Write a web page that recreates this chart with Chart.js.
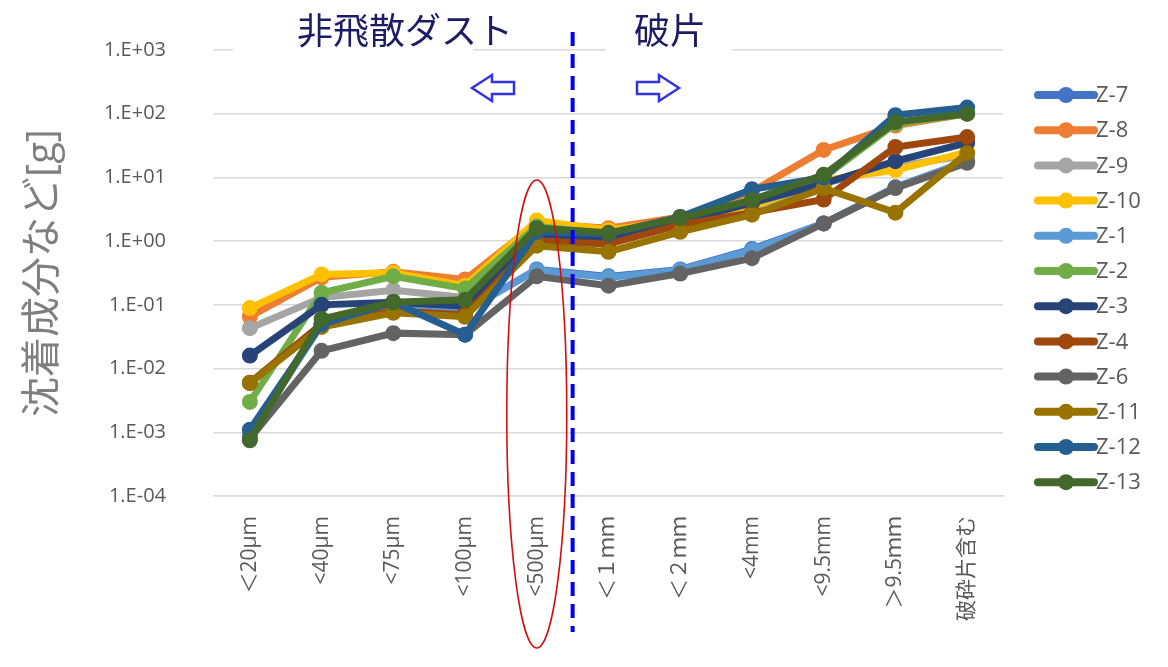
<!DOCTYPE html>
<html>
<head>
<meta charset="utf-8">
<script src="https://cdn.jsdelivr.net/npm/chart.js@4"></script>
<style>
  body { margin: 0; background: #fff; }
  canvas { display: block; }
</style>
</head>
<body>
<canvas id="chart" width="1168" height="667"></canvas>
<script>
// カテゴリ（粒径区分）
const categories = ['＜20μm', '<40μm', '<75μm', '<100μm', '<500μm', '＜１ｍｍ', '＜２ｍｍ', '<4mm', '<9.5mm', '＞9.5ｍｍ', '破砕片含む'];

// 各系列の値 [g]
const z7  = [0.0009, 0.05, 0.10, 0.08, 0.36, 0.28, 0.36, 0.75, 1.9, 7.0, 18];
const z8  = [0.065, 0.27, 0.33, 0.25, 1.9, 1.6, 2.4, 6.0, 27, 65, 100];
const z9  = [0.043, 0.13, 0.17, 0.13, 1.6, 1.3, 2.0, 3.5, 8, 15, 22];
const z10 = [0.089, 0.30, 0.32, 0.20, 2.1, 1.5, 2.1, 3.5, 9, 13, 25];
const z1  = [0.0009, 0.05, 0.10, 0.08, 0.35, 0.27, 0.35, 0.72, 1.9, 7.0, 18];
const z2  = [0.0030, 0.155, 0.28, 0.18, 1.7, 1.3, 2.2, 4.5, 10, 70, 100];
const z3  = [0.016, 0.10, 0.11, 0.095, 1.3, 1.1, 2.0, 4.0, 8, 18, 35];
const z4  = [0.0060, 0.05, 0.08, 0.07, 1.0, 0.9, 1.8, 2.8, 4.5, 30, 43];
const z6  = [0.0008, 0.019, 0.036, 0.034, 0.28, 0.20, 0.31, 0.54, 1.9, 6.8, 17];
const z11 = [0.0059, 0.045, 0.075, 0.065, 0.85, 0.68, 1.4, 2.6, 6.8, 2.8, 24];
const z12 = [0.0011, 0.05, 0.11, 0.034, 1.4, 1.3, 2.4, 6.5, 10, 95, 125];
const z13 = [0.00075, 0.06, 0.11, 0.12, 1.6, 1.35, 2.3, 4.4, 11, 74, 100];

const seriesNames  = ['Z-7', 'Z-8', 'Z-9', 'Z-10', 'Z-1', 'Z-2', 'Z-3', 'Z-4', 'Z-6', 'Z-11', 'Z-12', 'Z-13'];
const seriesValues = [z7, z8, z9, z10, z1, z2, z3, z4, z6, z11, z12, z13];
const seriesColors = ['#4472C4', '#ED7D31', '#A5A5A5', '#FFC000', '#5B9BD5', '#70AD47',
                      '#264478', '#9E480E', '#636363', '#997300', '#255E91', '#43682B'];

// y軸の目盛り
const yTicks = [1e-4, 1e-3, 1e-2, 1e-1, 1e0, 1e1, 1e2, 1e3];

const fontFamily = "'Open Sans', 'Noto Sans CJK JP', sans-serif";

function fmtExp(v) {
  const e = Math.round(Math.log10(v));
  return '1.E' + (e >= 0 ? '+' : '-') + String(Math.abs(e)).padStart(2, '0');
}

// 凡例（線＋マーカー）
const legendPlugin = {
  id: 'sideLegend',
  afterDraw(chart) {
    const ctx = chart.ctx;
    ctx.save();
    chart.data.datasets.forEach((ds, i) => {
      const y = 95 + i * 35.2;
      ctx.strokeStyle = ds.borderColor;
      ctx.lineWidth = 8;
      ctx.lineCap = 'round';
      ctx.beginPath();
      ctx.moveTo(1038, y);
      ctx.lineTo(1094, y);
      ctx.stroke();
      ctx.fillStyle = ds.borderColor;
      ctx.beginPath();
      ctx.arc(1066, y, 8, 0, Math.PI * 2);
      ctx.fill();
      ctx.fillStyle = '#595959';
      ctx.font = '22px ' + fontFamily;
      ctx.textBaseline = 'middle';
      ctx.textAlign = 'left';
      ctx.fillText(ds.label, 1096, y + 1);
    });
    ctx.restore();
  }
};

// 注記（区切り線・楕円・文字・矢印）
const notePlugin = {
  id: 'notes',
  afterDraw(chart) {
    const ctx = chart.ctx;
    const xs = chart.scales.x;
    ctx.save();

    // 区切りの破線
    const xDiv = xs.getPixelForValue(4.5);
    ctx.strokeStyle = '#0000FF';
    ctx.lineWidth = 4;
    ctx.setLineDash([14, 8]);
    ctx.beginPath();
    ctx.moveTo(xDiv, 32);
    ctx.lineTo(xDiv, 632);
    ctx.stroke();
    ctx.setLineDash([]);

    // <500μm を囲む楕円
    const xE = xs.getPixelForValue(4);
    ctx.strokeStyle = '#D01010';
    ctx.lineWidth = 1.6;
    ctx.beginPath();
    ctx.ellipse(xE, 414, 30, 234, 0, 0, Math.PI * 2);
    ctx.stroke();

    // 見出し文字（白地）
    ctx.fillStyle = '#ffffff';
    ctx.fillRect(233, 10, 240, 48);
    ctx.fillRect(606, 10, 126, 48);
    ctx.fillStyle = '#1B1B66';
    ctx.font = '36px ' + fontFamily;
    ctx.textBaseline = 'middle';
    ctx.textAlign = 'center';
    ctx.fillText('非飛散ダスト', 405, 34);
    ctx.fillText('破片', 670, 34);

    // 中抜き矢印
    function arrow(x0, dir) {
      const y0 = 88;
      const pts = [[0, -6], [22, -6], [22, -13], [42, 0], [22, 13], [22, 6], [0, 6]];
      ctx.beginPath();
      pts.forEach((p, k) => {
        const px = dir > 0 ? x0 + p[0] : x0 - p[0];
        const py = y0 + p[1];
        if (k === 0) ctx.moveTo(px, py); else ctx.lineTo(px, py);
      });
      ctx.closePath();
      ctx.strokeStyle = '#3333E6';
      ctx.lineWidth = 2.5;
      ctx.stroke();
    }
    arrow(514, -1);
    arrow(637, 1);

    ctx.restore();
  }
};

const ctx = document.getElementById('chart').getContext('2d');
new Chart(ctx, {
  type: 'line',
  data: {
    labels: categories,
    datasets: seriesNames.map((name, i) => ({
      label: name,
      data: seriesValues[i],
      borderColor: seriesColors[i],
      backgroundColor: seriesColors[i],
      borderWidth: 7,
      pointRadius: 8,
      pointHoverRadius: 8,
      pointBorderWidth: 0,
      tension: 0,
      order: seriesNames.length - i
    }))
  },
  options: {
    responsive: false,
    animation: false,
    layout: { padding: { left: 0, right: 165, top: 50, bottom: 0 } },
    plugins: {
      legend: { display: false },
      tooltip: { enabled: false }
    },
    scales: {
      x: {
        offset: true,
        grid: { display: false },
        border: { color: '#D9D9D9', width: 1.5 },
        ticks: {
          minRotation: 90,
          maxRotation: 90,
          padding: 12,
          color: '#595959',
          font: { family: fontFamily, size: 21 }
        },
        afterFit(scale) { scale.height = 171; }
      },
      y: {
        type: 'logarithmic',
        min: 1e-4,
        max: 1e3,
        afterBuildTicks(scale) {
          scale.ticks = yTicks.map(v => ({ value: v }));
        },
        afterFit(scale) {
          scale.width = 214;
          scale.paddingTop = 0;
          scale.paddingBottom = 0;
        },
        grid: { color: '#D9D9D9', lineWidth: 1.5, drawTicks: false },
        border: { display: false },
        ticks: {
          padding: 48,
          color: '#595959',
          font: { family: fontFamily, size: 20 },
          callback: v => fmtExp(v)
        },
        title: {
          display: true,
          text: '沈着成分など[g]',
          color: '#7F7F7F',
          padding: { top: 20, bottom: 8 },
          font: { family: fontFamily, size: 40 }
        }
      }
    }
  },
  plugins: [legendPlugin, notePlugin]
});
</script>
</body>
</html>
